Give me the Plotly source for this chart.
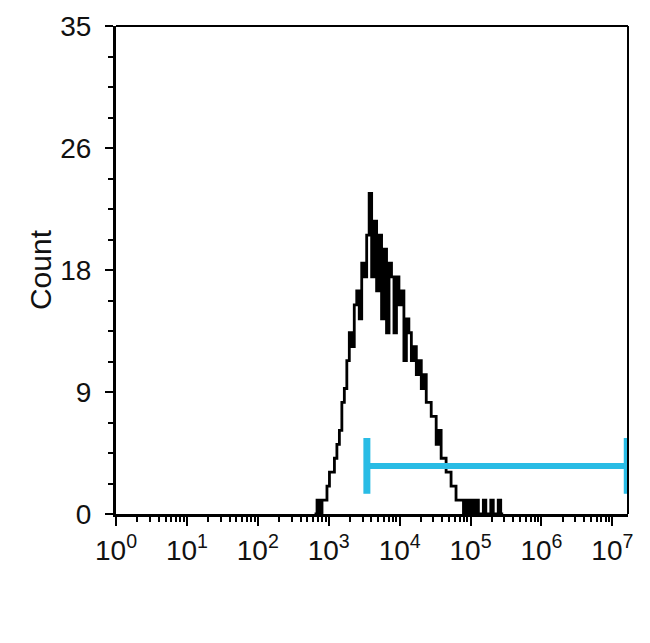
import plotly.graph_objects as go

# ---- data ----
log_bin_start = 2.80      # log10 of first bin's left edge
log_bin_width = 0.035     # bin width in decades
counts = [0, 1, 0, 1, 1, 2, 3, 3, 4, 5,
          6, 8, 9, 11, 13, 12, 15, 16, 14, 18,
          17, 20, 23, 17, 21, 16, 20, 14, 19, 13,
          18, 17, 13, 17, 15, 16, 11, 14, 13, 11,
          12, 10, 11, 9, 10, 8, 8, 7, 7, 5,
          6, 4, 4, 3, 3, 2, 2, 1, 1, 1,
          0, 1, 0, 1, 0, 1, 0, 0, 1, 0,
          0, 1, 0, 0, 1, 0]

y_tickvals = [0, 8.75, 17.5, 26.25, 35]
y_ticktext = ["0", "9", "18", "26", "35"]
x_tickvals = [1, 10, 100, 1e3, 1e4, 1e5, 1e6, 1e7]
x_ticktext = ["10<sup>0</sup>", "10<sup>1</sup>", "10<sup>2</sup>", "10<sup>3</sup>",
              "10<sup>4</sup>", "10<sup>5</sup>", "10<sup>6</sup>", "10<sup>7</sup>"]

gate_low = 3450
gate_high = 1.62e7
gate_y = 3.45
gate_cap = 2.0

# ---- build step outline ----
edges = [10 ** (log_bin_start + log_bin_width * i) for i in range(len(counts) + 1)]
xs = [edges[0]] + edges
ys = [0] + counts + [0]

fig = go.Figure()
fig.add_trace(go.Scatter(x=xs, y=ys, mode="lines", line=dict(color="black", width=2.8, shape="hv"),
                         hoverinfo="skip", showlegend=False))

cyan = "#29BCE5"
fig.add_trace(go.Scatter(x=[gate_low, gate_high], y=[gate_y, gate_y], mode="lines",
                         line=dict(color=cyan, width=6), showlegend=False))
for gx in (gate_low, gate_high):
    fig.add_trace(go.Scatter(x=[gx, gx], y=[gate_y - gate_cap, gate_y + gate_cap], mode="lines",
                             line=dict(color=cyan, width=7), showlegend=False))

font = dict(family="Liberation Sans, Arial, sans-serif", color="#111111")

fig.update_layout(
    width=650, height=643,
    margin=dict(l=108, r=30, t=18, b=137, autoexpand=False),
    paper_bgcolor="white", plot_bgcolor="white",
    font=font,
    showlegend=False,
    shapes=[
        dict(type="line", xref="paper", yref="paper", x0=0, x1=1, y0=1, y1=1,
             line=dict(color="black", width=2)),
        dict(type="line", xref="paper", yref="paper", x0=1, x1=1, y0=0, y1=1,
             line=dict(color="black", width=2)),
    ],
)

fig.update_xaxes(
    type="log", range=[0, 7.22], automargin=False,
    tickmode="array", tickvals=x_tickvals, ticktext=x_ticktext,
    ticks="outside", ticklen=9, tickwidth=2, tickcolor="black",
    showline=True, linecolor="black", linewidth=3,
    showgrid=False, zeroline=False,
    tickfont=dict(size=28, color="#111111"),
    minor=dict(ticks="outside", ticklen=5, tickwidth=1.5, tickcolor="black",
               dtick="D1", showgrid=False),
)
fig.update_yaxes(
    range=[0, 35], automargin=False,
    tickmode="array", tickvals=y_tickvals, ticktext=y_ticktext,
    ticks="outside", ticklen=8, tickwidth=2, tickcolor="black",
    showline=True, linecolor="black", linewidth=3,
    showgrid=False, zeroline=False,
    tickfont=dict(size=28, color="#111111"),
    ticklabelstandoff=8,
    minor=dict(ticks="outside", ticklen=5, tickwidth=1.5, tickcolor="black",
               dtick=2.1875, showgrid=False),
    title=dict(text="Count", font=dict(size=30, color="#111111"), standoff=0),
)

fig.write_html("out.html")
